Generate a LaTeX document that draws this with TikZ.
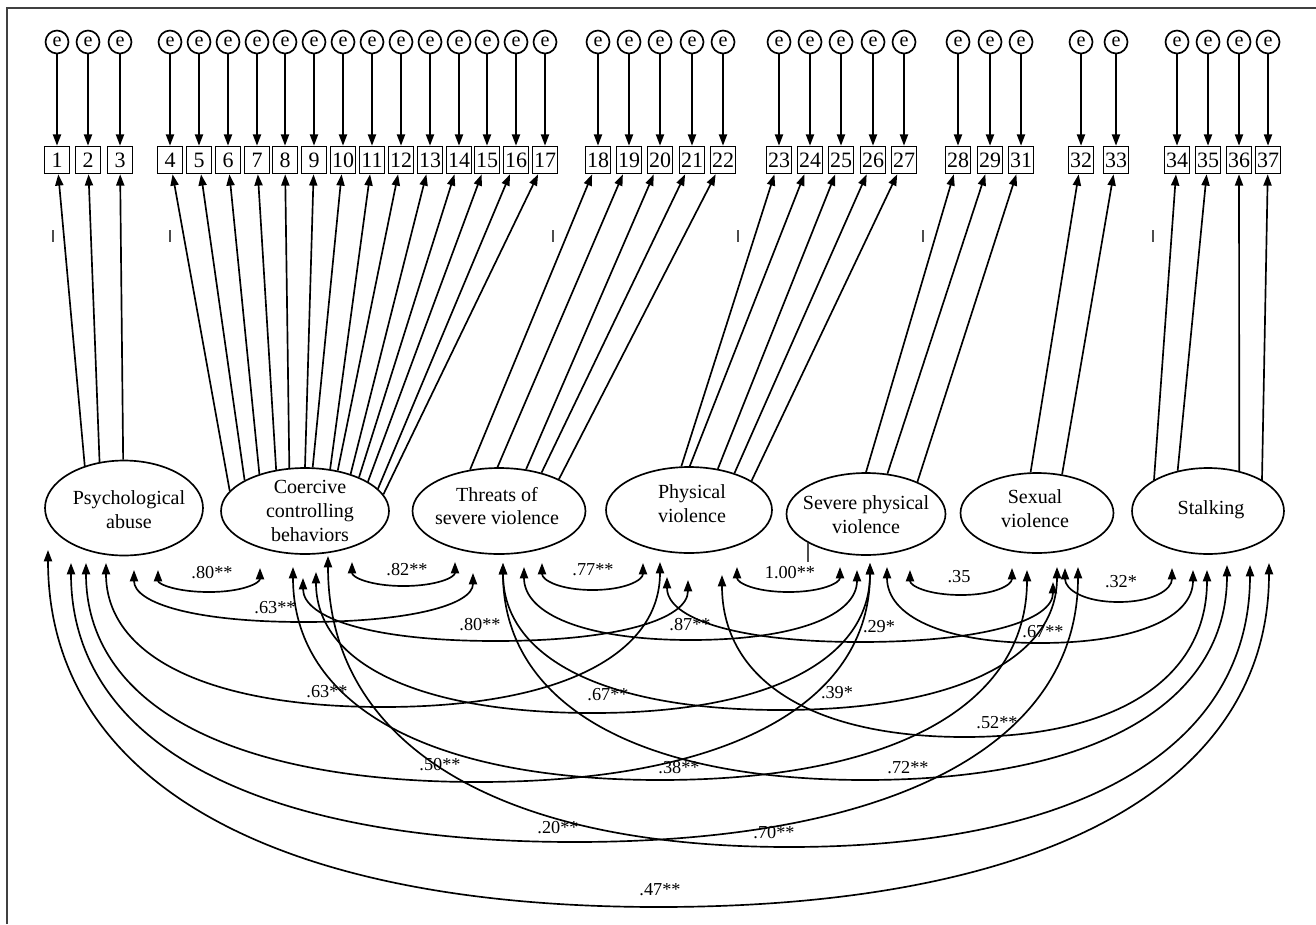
\documentclass[tikz,border=0pt]{standalone}
\usepackage{fontspec}
\setmainfont{Liberation Serif}
\usetikzlibrary{arrows.meta}
\usetikzlibrary{shapes.geometric}
\tikzset{lod/.style = {-{Triangle[length = 6.4pt, width = 4.6pt]}}}
\tikzset{cov/.style = {{Triangle[length = 6.4pt, width = 4.6pt]}-{Triangle[length = 6.4pt, width = 4.6pt]}}}
\tikzset{factor/.style = {draw, ellipse, inner sep = 0, minimum width = 3.28cm, minimum height = 1.74cm}}
\tikzset{ftext/.style = {align = center, inner sep = 0, font = \fontsize{11.4}{13.6}\selectfont}}
\tikzset{item/.style = {draw, rectangle, inner sep = 0, minimum width = 0.5cm, minimum height = 0.54cm, font = \fontsize{12.5}{12.5}\selectfont}}
\tikzset{err/.style = {draw, circle, inner sep = 0, minimum size = 0.46cm, font = \fontsize{11.5}{11.5}\selectfont}}
\tikzset{coef/.style = {inner sep = 0, font = \fontsize{10.4}{10.4}\selectfont}}
\tikzset{stub/.style = {black!70, line width = 1pt}}

\begin{document}
\begin{tikzpicture}[x = 0.02cm, y = -0.02cm, line width = 0.95pt]
  \useasboundingbox (0, 0) rectangle (1316, 924);
  \draw [line width = 1.2pt, black!75] (7, 924) -- (7, 8) -- (1316, 8);

  \foreach \n/\x in {1/57, 2/88, 3/120, 4/170, 5/199, 6/228, 7/257, 8/285, 9/314, 10/343,
                     11/372, 12/401, 13/430, 14/459, 15/487, 16/516, 17/545, 18/598, 19/629,
                     20/660, 21/692, 22/723, 23/779, 24/810, 25/841, 26/873, 27/904, 28/958,
                     29/990, 31/1021, 32/1081, 33/1116, 34/1177, 35/1208, 36/1239, 37/1268} {
    \node [item] (b\n) at (\x, 160) {\n};
    \node [err] (e\n) at (\x, 42) {e};
    \draw [lod] (e\n) -- (b\n);
  }

  \node [factor, minimum width = 3.16cm, minimum height = 1.9cm] (pa) at (124, 508) {};
  \node [factor, minimum width = 3.36cm, minimum height = 1.72cm] (ccb) at (305, 511) {};
  \node [factor, minimum width = 3.46cm, minimum height = 1.72cm] (tsv) at (499, 511) {};
  \node [factor, minimum width = 3.32cm, minimum height = 1.72cm] (pv) at (689, 510) {};
  \node [factor, minimum width = 3.18cm, minimum height = 1.64cm] (spv) at (866, 514) {};
  \node [factor, minimum width = 3.06cm, minimum height = 1.6cm] (sv) at (1037, 513) {};
  \node [factor, minimum width = 3.04cm, minimum height = 1.72cm] (st) at (1208, 511) {};
  \node [ftext] (pa-t) at (129, 510) {Psychological\\abuse};
  \node [ftext] (ccb-t) at (310, 511) {Coercive\\controlling\\behaviors};
  \node [ftext] (tsv-t) at (497, 506) {Threats of\\severe violence};
  \node [ftext] (pv-t) at (692, 504) {Physical\\violence};
  \node [ftext] (spv-t) at (866, 515) {Severe physical\\violence};
  \node [ftext] (sv-t) at (1035, 509) {Sexual\\violence};
  \node [ftext] (st-t) at (1211, 510) {Stalking};

  \foreach \n/\f/\a in {1/pa/133, 2/pa/118, 3/pa/91,
                        4/ccb/165, 5/ccb/153, 6/ccb/141, 7/ccb/125, 8/ccb/110, 9/ccb/90, 10/ccb/80,
                        11/ccb/59, 12/ccb/51, 13/ccb/39, 14/ccb/32, 15/ccb/25, 16/ccb/17, 17/ccb/12,
                        18/tsv/125, 19/tsv/92, 20/tsv/57, 21/tsv/42, 22/tsv/28,
                        23/pv/100, 24/pv/89, 25/pv/55, 26/pv/39, 27/pv/25,
                        28/spv/90, 29/spv/62, 31/spv/32, 32/sv/99, 33/sv/57,
                        34/st/150, 35/st/127, 36/st/52, 37/st/30}
    \draw [lod] (\f.\a) -- (b\n);

  \foreach \x in {53, 170, 553, 738, 923, 1153}
    \draw [stub] (\x, 230) -- (\x, 242);
  \draw [stub] (808, 543) -- (808, 562);

  \foreach \ax/\ay/\bx/\by/\my/\lx/\ly/\v [count = \i] in
     {158/570/260/568/592/212/573/.80**, 352/562/455/562/586/407/570/.82**,
      542/563/643/563/590/593/570/.77**, 737/567/840/567/592/790/573/1.00**,
      910/570/1012/568/595/959/577/.35, 1065/568/1172/568/602/1121/582/.32*,
      134/570/473/573/622/275/608/.63**, 303/578/688/580/641/480/625/.80**,
      524/567/857/570/640/690/625/.87**, 667/577/1053/582/642/879/627/.29*,
      887/567/1193/570/643/1043/632/.67**, 106/563/660/562/707/327/692/.63**,
      316/572/870/563/713/608/695/.67**, 503/563/1057/567/710/837/693/.39*,
      722/575/1207/570/737/997/723/.52**, 86/563/870/563/782/440/765/.50**,
      293/567/1027/570/780/679/768/.38**, 503/563/1227/565/780/908/768/.72**,
      71/563/1078/567/842/558/828/.20**, 328/556/1250/565/847/774/833/.70**,
      48/550/1269/563/907/660/890/.47**} {
    \pgfmathsetmacro{\mx}{(\ax + \bx) / 2}
    \pgfmathsetmacro{\ua}{0.64 * (\my - \ay)}
    \pgfmathsetmacro{\ub}{0.64 * (\my - \by)}
    \pgfmathsetmacro{\uh}{0.64 * (\bx - \ax) / 2}
    \coordinate (c\i-a) at (\ax, \ay);
    \coordinate (c\i-b) at (\bx, \by);
    \coordinate (c\i-m) at (\mx, \my);
    \draw [cov] (c\i-a) .. controls +(0, \ua) and +(-\uh, 0) .. (c\i-m)
                        .. controls +(\uh, 0) and +(0, \ub) .. (c\i-b);
    \node [coef] (r\i) at (\lx, \ly) {\v};
  }
\end{tikzpicture}
\end{document}
